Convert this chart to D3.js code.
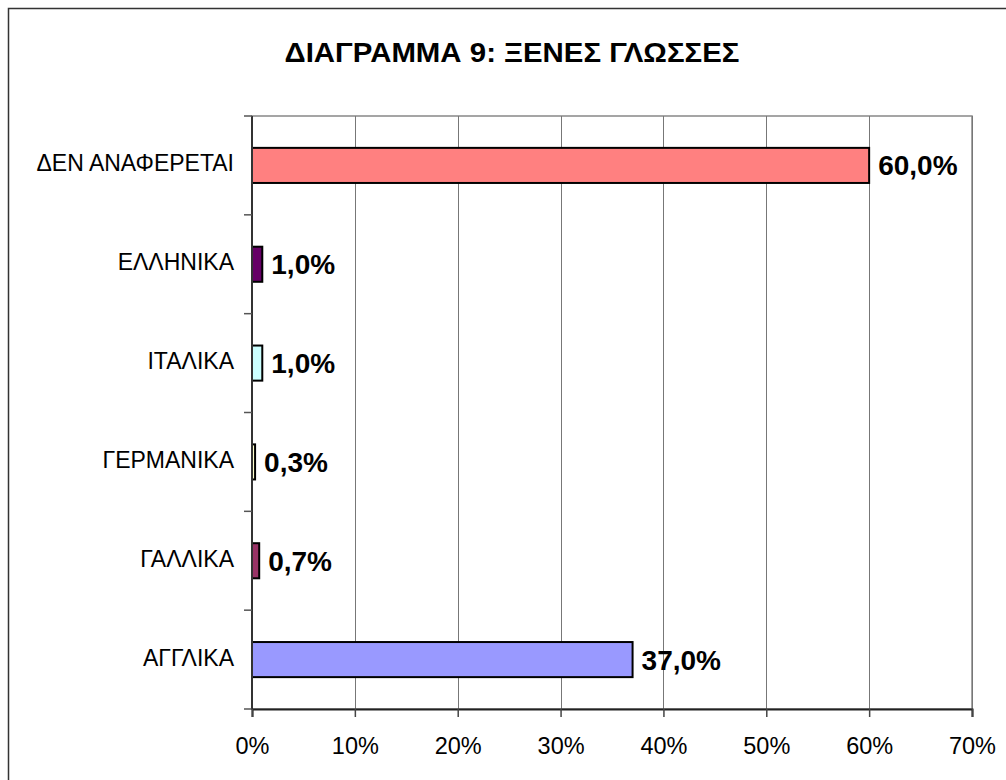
<!DOCTYPE html>
<html>
<head>
<meta charset="utf-8">
<script src="https://cdn.jsdelivr.net/npm/d3@7"></script>
<style>
body{margin:0;background:#fff;}
svg{display:block;font-family:"Liberation Sans",Arial,sans-serif;}
</style>
</head>
<body>
<svg></svg>
<script>
var categories=["ΔΕΝ ΑΝΑΦΕΡΕΤΑΙ","ΕΛΛΗΝΙΚΑ","ΙΤΑΛΙΚΑ","ΓΕΡΜΑΝΙΚΑ","ΓΑΛΛΙΚΑ","ΑΓΓΛΙΚΑ"]
var values=[60.0,1.0,1.0,0.3,0.7,37.0]
var valueLabels=["60,0%","1,0%","1,0%","0,3%","0,7%","37,0%"]
var colors=["#ff8080","#660066","#ccffff","#ffffcc","#993366","#9999ff"]
var xTicks=[0,10,20,30,40,50,60,70]

var screen={width:1006,height:780}
var margins={top:116,right:34,bottom:71,left:252}

var svg=d3.select("svg")
    .attr("width",screen.width)
    .attr("height",screen.height)

// outer chart frame
svg.append("rect")
    .attr("x",8.5).attr("y",8.5)
    .attr("width",1010).attr("height",800)
    .attr("fill","none")
    .attr("stroke","#333")
    .attr("stroke-width",1.5)

svg.append("text")
    .attr("x",512).attr("y",62)
    .attr("text-anchor","middle")
    .attr("font-size",28)
    .attr("font-weight","bold")
    .attr("textLength",455)
    .attr("lengthAdjust","spacingAndGlyphs")
    .text("ΔΙΑΓΡΑΜΜΑ 9: ΞΕΝΕΣ ΓΛΩΣΣΕΣ")

var width=screen.width-margins.left-margins.right
var height=screen.height-margins.top-margins.bottom

var xScale=d3.scaleLinear()
    .domain([0,70])
    .range([0,width])

var yScale=d3.scaleBand()
    .domain(categories)
    .range([0,height])
    .paddingInner(0.645)
    .paddingOuter(0.3225)

var graph=svg.append("g")
    .attr("transform","translate("+margins.left+","+margins.top+")")

// plot area border + grid
graph.append("rect")
    .attr("x",0).attr("y",0)
    .attr("width",width).attr("height",height)
    .attr("fill","none")
    .attr("stroke","#888")
    .attr("stroke-width",1.5)

graph.selectAll(".grid")
    .data(xTicks.slice(1))
    .enter()
    .append("line")
    .attr("x1",function(d){return Math.round(xScale(d))+0.5})
    .attr("x2",function(d){return Math.round(xScale(d))+0.5})
    .attr("y1",0).attr("y2",height)
    .attr("stroke","#777")
    .attr("stroke-width",1)

graph.selectAll(".bar")
    .data(values)
    .enter()
    .append("rect")
    .attr("x",0)
    .attr("y",function(d,i){return yScale(categories[i])})
    .attr("width",function(d){return xScale(d)})
    .attr("height",yScale.bandwidth())
    .attr("fill",function(d,i){return colors[i]})
    .attr("stroke","#000")
    .attr("stroke-width",2)

graph.selectAll(".vlabel")
    .data(values)
    .enter()
    .append("text")
    .attr("x",function(d){return xScale(d)+9})
    .attr("y",function(d,i){return yScale(categories[i])+yScale.bandwidth()/2})
    .attr("dy","0.36em")
    .attr("font-size",28)
    .attr("font-weight","bold")
    .text(function(d,i){return valueLabels[i]})

// y axis
var yAxis=graph.append("g")
var step=height/categories.length
yAxis.append("line")
    .attr("x1",0).attr("x2",0)
    .attr("y1",0).attr("y2",height)
    .attr("stroke","#333").attr("stroke-width",2)
yAxis.selectAll(".ytick")
    .data(d3.range(categories.length+1))
    .enter()
    .append("line")
    .attr("x1",-8).attr("x2",0)
    .attr("y1",function(d){return d*step})
    .attr("y2",function(d){return d*step})
    .attr("stroke","#555").attr("stroke-width",1.5)
yAxis.selectAll(".ylabel")
    .data(categories)
    .enter()
    .append("text")
    .attr("x",-18)
    .attr("y",function(d){return yScale(d)+yScale.bandwidth()/2-2})
    .attr("dy","0.35em")
    .attr("text-anchor","end")
    .attr("font-size",23)
    .text(function(d){return d})

// x axis
var xAxis=d3.axisBottom(xScale)
    .tickValues(xTicks)
    .tickSize(8)
    .tickPadding(20)
    .tickFormat(function(d){return d+"%"})

var xg=graph.append("g")
    .attr("transform","translate(0,"+height+")")
    .call(xAxis)
xg.select(".domain").attr("stroke","#222").attr("stroke-width",2)
xg.selectAll(".tick line").attr("stroke","#444").attr("stroke-width",1.5)
xg.selectAll(".tick text")
    .attr("font-size",23.5)
    .attr("font-family","Liberation Sans, Arial, sans-serif")
    .attr("fill","#000")
</script>
</body>
</html>
